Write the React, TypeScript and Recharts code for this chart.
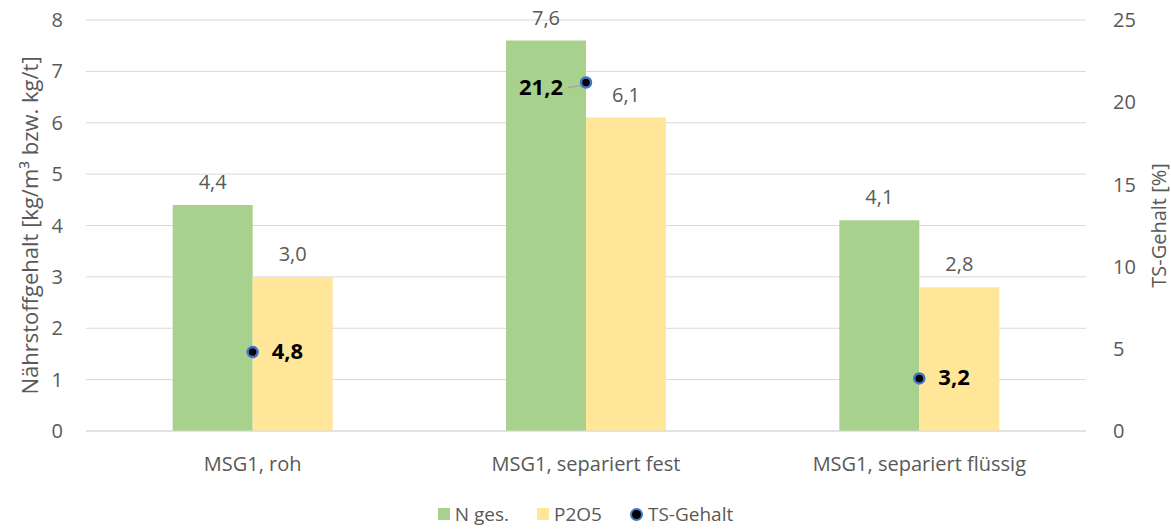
import React from 'react';
import { ComposedChart, Bar, Line, XAxis, YAxis, CartesianGrid, Legend, LabelList } from 'recharts';

const categories = ['MSG1, roh', 'MSG1, separiert fest', 'MSG1, separiert flüssig'];
const nGes = [4.4, 7.6, 4.1];
const p2o5 = [3.0, 6.1, 2.8];
const tsGehalt = [4.8, 21.2, 3.2];
const leftTicks = [0, 1, 2, 3, 4, 5, 6, 7, 8];
const rightTicks = [0, 5, 10, 15, 20, 25];

const data = categories.map((name, i) => ({ name, n: nGes[i], p: p2o5[i], ts: tsGehalt[i] }));

const FONT = '"Open Sans", sans-serif';
const GREY = '#595959';
const fmt = (v: number) => v.toFixed(1).replace('.', ',');

// TS labels: to the right of the dot, except the middle one which sits left with a leader line
const TsLabel = (props: any) => {
  const { x, y, value, index } = props;
  if (index === 1) {
    return (
      <g>
        <line x1={x - 18} y1={y + 5} x2={x - 5} y2={y + 3} stroke="#a6a6a6" strokeWidth={1.5} />
        <text x={x - 23} y={y + 7} textAnchor="end" dominantBaseline="middle" fontFamily={FONT} fontWeight="bold" fontSize={22} fill="#000">
          {fmt(value)}
        </text>
      </g>
    );
  }
  return (
    <text x={x + 19} y={y + 1} textAnchor="start" dominantBaseline="middle" fontFamily={FONT} fontWeight="bold" fontSize={22} fill="#000">
      {fmt(value)}
    </text>
  );
};

const LegendContent = () => (
  <div style={{ display: 'flex', justifyContent: 'center', alignItems: 'center', height: 30, fontFamily: FONT, fontSize: 19, color: GREY }}>
    <span style={{ display: 'inline-block', width: 12, height: 12, background: '#a9d18e', marginRight: 5 }} />
    <span style={{ marginRight: 28 }}>N ges.</span>
    <span style={{ display: 'inline-block', width: 12, height: 12, background: '#ffe699', marginRight: 5 }} />
    <span style={{ marginRight: 28 }}>P2O5</span>
    <span style={{ display: 'inline-block', width: 9, height: 9, borderRadius: '50%', background: '#000', border: '2px solid #4472c4', marginRight: 5 }} />
    <span>TS-Gehalt</span>
  </div>
);

export default function App() {
  return (
    <div style={{ position: 'absolute', left: 0, top: 0, width: 1171, height: 529, background: '#fff' }}>
      <ComposedChart
        width={1171}
        height={529}
        data={data}
        margin={{ top: 20, right: 0, bottom: 0, left: 0 }}
        barCategoryGap="26%"
        barGap={0}
      >
        <CartesianGrid vertical={false} stroke="#d9d9d9" yAxisId="left" />
        <XAxis
          dataKey="name"
          axisLine={{ stroke: '#d9d9d9' }}
          tickLine={false}
          tickMargin={20}
          height={68}
          tick={{ fontFamily: FONT, fontSize: 20, fill: GREY }}
        />
        <YAxis
          yAxisId="left"
          domain={[0, 8]}
          ticks={leftTicks}
          width={86}
          axisLine={false}
          tickLine={false}
          tickMargin={17}
          tick={{ fontFamily: FONT, fontSize: 20, fill: GREY }}
          label={{ value: 'Nährstoffgehalt [kg/m³ bzw. kg/t]', angle: -90, position: 'insideLeft', offset: 30, style: { textAnchor: 'middle', fontFamily: FONT, fontSize: 22, fill: GREY } }}
        />
        <YAxis
          yAxisId="right"
          orientation="right"
          domain={[0, 25]}
          ticks={rightTicks}
          width={85}
          axisLine={false}
          tickLine={false}
          tickMargin={21}
          tick={{ fontFamily: FONT, fontSize: 20, fill: GREY }}
          label={{ value: 'TS-Gehalt [%]', angle: -90, position: 'insideRight', offset: 12, style: { textAnchor: 'middle', fontFamily: FONT, fontSize: 20, fill: GREY } }}
        />
        <Legend verticalAlign="bottom" content={<LegendContent />} />
        <Bar yAxisId="left" dataKey="n" name="N ges." fill="#a9d18e" isAnimationActive={false}>
          <LabelList dataKey="n" position="top" offset={16} formatter={(v: any) => fmt(Number(v))} style={{ fontFamily: FONT, fontSize: 20, fill: GREY }} />
        </Bar>
        <Bar yAxisId="left" dataKey="p" name="P2O5" fill="#ffe699" isAnimationActive={false}>
          <LabelList dataKey="p" position="top" offset={16} formatter={(v: any) => fmt(Number(v))} style={{ fontFamily: FONT, fontSize: 20, fill: GREY }} />
        </Bar>
        <Line
          yAxisId="right"
          dataKey="ts"
          name="TS-Gehalt"
          stroke="none"
          dot={{ r: 5, fill: '#000', stroke: '#4472c4', strokeWidth: 2.5 }}
          activeDot={false}
          isAnimationActive={false}
        >
          <LabelList dataKey="ts" content={<TsLabel />} />
        </Line>
      </ComposedChart>
    </div>
  );
}
